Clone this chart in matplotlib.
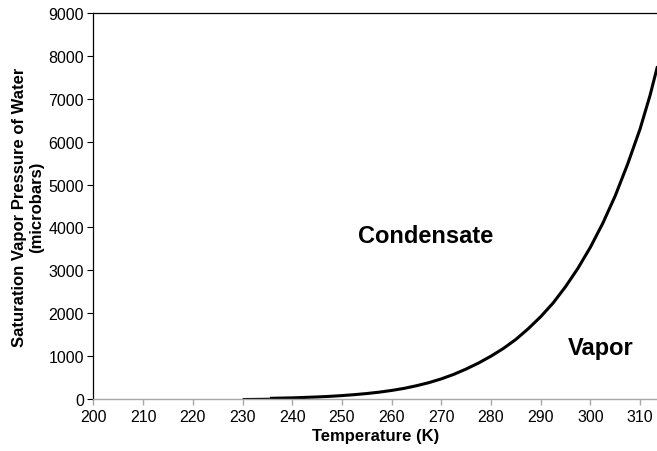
#!/usr/bin/env python3
"""Saturation vapour pressure of water against temperature, split into
condensate / vapor regions."""
import matplotlib

matplotlib.use("Agg")
import matplotlib.pyplot as plt

plt.rcParams["font.family"] = ["Liberation Sans", "DejaVu Sans"]

# low-temperature stub, drawn thin
temp_low = [230.0, 232.5, 235.5]
pres_low = [9, 12, 16]

# main curve
temp_k = [235.5, 237.5, 240, 242.5, 245, 247.5, 250, 252.5, 255, 257.5, 260,
          262.5, 265, 267.5, 270, 272.5, 275, 277.5, 280, 282.5, 285, 287.5,
          290, 292.5, 295, 297.5, 300, 302.5, 305, 307.5, 310, 312.0, 313.5]
pres_ubar = [16, 21, 27, 37, 48, 62, 80, 102, 128, 160, 200,
             248, 310, 382, 470, 575, 700, 840, 1000, 1180, 1390, 1640,
             1920, 2240, 2620, 3050, 3540, 4100, 4740, 5480, 6300, 7080, 7760]

x_ticks = list(range(200, 311, 10))
y_ticks = list(range(0, 9001, 1000))

fig = plt.figure(figsize=(6.57, 4.52), dpi=100)
ax = fig.add_axes([0.1423, 0.115, 0.8577, 0.854])

ax.plot(temp_low, pres_low, color="black", linewidth=0.9,
        solid_capstyle="butt")
ax.plot(temp_k, pres_ubar, color="black", linewidth=2.2,
        solid_capstyle="butt")

ax.set_xlim(200, 313.4)
ax.set_ylim(0, 9000)
ax.set_xticks(x_ticks)
ax.set_yticks(y_ticks)

ax.spines["right"].set_visible(False)
ax.spines["left"].set_color("black")
ax.spines["left"].set_linewidth(0.9)
ax.spines["top"].set_color("black")
ax.spines["top"].set_linewidth(0.9)
ax.spines["bottom"].set_color("#a8a8a8")
ax.spines["bottom"].set_linewidth(1.0)

ax.tick_params(axis="y", direction="out", length=4, width=0.8,
               colors="black", labelsize=11.5, pad=3)
ax.tick_params(axis="x", direction="out", length=4, width=1.0,
               color="#a8a8a8", labelcolor="black", labelsize=11.5, pad=3)

ax.set_xlabel("Temperature (K)", fontsize=12, fontweight="bold", labelpad=3)
ax.set_ylabel("Saturation Vapor Pressure of Water\n(microbars)",
              fontsize=12, fontweight="bold", labelpad=3, linespacing=1.15)

ax.text(266.9, 3820, "Condensate", fontsize=17, fontweight="bold",
        ha="center", va="center")
ax.text(302.0, 1190, "Vapor", fontsize=17, fontweight="bold",
        ha="center", va="center")

fig.savefig("out.png", dpi=100)
